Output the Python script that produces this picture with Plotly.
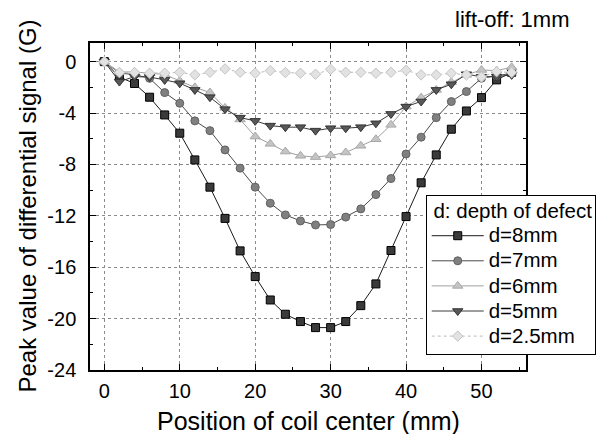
import plotly.graph_objects as go

# Data
x_pos = [0, 2, 4, 6, 8, 10, 12, 14, 16, 18, 20, 22, 24, 26, 28, 30, 32, 34, 36, 38, 40, 42, 44, 46, 48, 50, 52, 54]
d8 = [0, -1.2, -1.7, -2.77, -4.15, -5.57, -7.65, -9.77, -12.2, -14.73, -16.73, -18.55, -19.66, -20.23, -20.7, -20.7,
      -20.23, -18.99, -17.3, -14.7, -12.06, -9.43, -7.26, -5.26, -3.84, -2.8, -1.42, -0.83]
d7 = [0, -0.9, -1.0, -1.3, -2.41, -3.24, -4.61, -5.37, -6.87, -8.29, -9.77, -11.02, -11.93, -12.4, -12.71, -12.68,
      -12.1, -11.46, -10.35, -9.1, -7.19, -5.88, -4.36, -3.11, -2.33, -1.29, -1.11, -0.9]
d6 = [0, -0.8, -0.8, -0.9, -1.0, -1.5, -2.0, -2.4, -3.6, -4.5, -5.83, -6.4, -7.0, -7.33, -7.43, -7.3,
      -7.07, -6.55, -6.04, -4.92, -3.5, -2.8, -2.2, -1.6, -1.03, -0.65, -0.7, -0.44]
d5 = [0, -1.55, -1.17, -1.2, -1.42, -1.68, -2.2, -2.77, -3.7, -4.36, -4.61, -4.98, -5.1, -5.1, -5.37, -5.18,
      -5.18, -5.1, -4.8, -4.07, -3.5, -3.1, -2.2, -1.76, -0.98, -1.17, -1.17, -1.03]
d25 = [0, -0.85, -0.85, -0.9, -0.9, -0.83, -1.03, -0.83, -0.57, -0.83, -0.9, -0.7, -0.85, -0.9, -0.98, -0.6,
       -0.83, -0.83, -0.9, -0.83, -0.67, -1.03, -1.03, -0.9, -1.03, -1.2, -0.78, -0.85]

series_names = ["d=8mm", "d=7mm", "d=6mm", "d=5mm", "d=2.5mm"]
legend_title = "d: depth of defect"
x_title = "Position of coil center (mm)"
y_title = "Peak value of differential signal (G)"
note = "lift-off: 1mm"
x_ticks = [0, 10, 20, 30, 40, 50]
x_minor = [5, 15, 25, 35, 45, 55]
y_ticks = [0, -4, -8, -12, -16, -20, -24]
y_minor = [-2, -6, -10, -14, -18, -22]

FONT = "Liberation Sans, Arial, sans-serif"
LEG_TXT = "<span style='font-size:20.5px'>{}</span>"

styles = [
    dict(symbol="square", size=8, color="#3a3a3a", lc="black", line="#1a1a1a", dash="solid"),
    dict(symbol="circle", size=8, color="#808080", lc="#606060", line="#4a4a4a", dash="solid"),
    dict(symbol="triangle-up", size=9, color="#c4c4c4", lc="#a8a8a8", line="#a0a0a0", dash="solid"),
    dict(symbol="triangle-down", size=9, color="#585858", lc="#333333", line="#3a3a3a", dash="solid"),
    dict(symbol="diamond", size=8, color="#e2e2e2", lc="#c4c4c4", line="#bbbbbb", dash="dot"),
]

fig = go.Figure()
for name, ys, st in zip(series_names, [d8, d7, d6, d5, d25], styles):
    fig.add_trace(go.Scatter(
        x=x_pos, y=ys, name=LEG_TXT.format(name), mode="lines+markers",
        line=dict(color=st["line"], width=1, dash=st["dash"]),
        marker=dict(symbol=st["symbol"], size=st["size"], color=st["color"],
                    line=dict(color=st["lc"], width=1)),
    ))

axis_common = dict(
    showline=True, linecolor="black", linewidth=1.5, mirror="allticks",
    ticks="inside", ticklen=6, tickcolor="black", tickwidth=1,
    showgrid=True, gridcolor="#8a8a8a", griddash="dot", gridwidth=1,
    zeroline=False, tickfont=dict(size=20, color="black", family=FONT),
    automargin=False,
)

fig.update_xaxes(range=[-1.9, 55.9], tickmode="array", tickvals=x_ticks,
                 minor=dict(tickvals=x_minor, ticks="inside", ticklen=3,
                            tickcolor="black", showgrid=False),
                 ticklabelstandoff=2,
                 **axis_common)
fig.update_yaxes(range=[-24, 1.45], tickmode="array", tickvals=y_ticks,
                 ticktext=[str(v) for v in y_ticks],
                 minor=dict(tickvals=y_minor, ticks="inside", ticklen=3,
                            tickcolor="black", showgrid=False),
                 ticklabelstandoff=8,
                 **axis_common)

# The page body has a default 8px margin, so the figure is drawn 8px in from the top-left.
fig.update_layout(
    width=600, height=426, autosize=False,
    margin=dict(l=82, r=79, t=35, b=64),
    paper_bgcolor="white", plot_bgcolor="white",
    font=dict(family=FONT, color="black", size=20),
    showlegend=True,
    legend=dict(
        title=dict(text="\u00a0" + LEG_TXT.format(legend_title),
                   font=dict(size=17, family=FONT, color="black")),
        x=0.77, y=0.535, xanchor="left", yanchor="top",
        bgcolor="white", bordercolor="black", borderwidth=1,
        font=dict(size=17, family=FONT, color="black"), itemwidth=52, tracegroupgap=0,
    ),
    annotations=[
        dict(text=x_title, xref="paper", yref="paper", x=0.5, y=0, xanchor="center", yanchor="middle",
             yshift=-51, showarrow=False, font=dict(size=25, family=FONT)),
        dict(text=y_title, xref="paper", yref="paper", x=0, y=0.5, xanchor="center", yanchor="middle",
             xshift=-63, textangle=-90, showarrow=False, font=dict(size=24, family=FONT)),
        dict(text=note, xref="paper", yref="paper", x=1.105, y=1, xanchor="right", yanchor="middle",
             yshift=24, showarrow=False, font=dict(size=22, family=FONT)),
    ],
)

fig.write_html("out.html")
